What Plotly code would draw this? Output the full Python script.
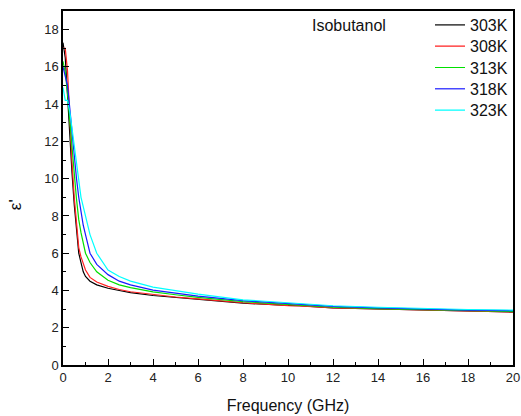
import plotly.graph_objects as go

freq = [0, 0.1, 0.2, 0.3, 0.4, 0.5, 0.6, 0.7, 0.8, 0.9, 1.0, 1.2, 1.5, 2, 2.5, 3, 4, 5, 6, 8, 10, 10.5, 12, 14, 16, 18, 20]

eps_303 = [17.3, 16.5, 14.5, 12.2, 10.3, 8.6, 7.2, 6.0, 5.5, 5.0, 4.75, 4.5, 4.3, 4.12, 4.0, 3.88, 3.73, 3.63, 3.52, 3.32, 3.2, 3.18, 3.06, 3.0, 2.95, 2.9, 2.84]
eps_308 = [17.0, 17.0, 15.8, 13.2, 10.9, 9.0, 7.5, 6.3, 5.8, 5.4, 5.1, 4.7, 4.45, 4.22, 4.05, 3.93, 3.77, 3.65, 3.55, 3.34, 3.19, 3.17, 3.06, 3.0, 2.95, 2.9, 2.84]
eps_313 = [16.3, 15.7, 14.6, 13.0, 11.6, 10.3, 8.9, 7.8, 7.1, 6.5, 6.0, 5.5, 5.0, 4.55, 4.3, 4.15, 3.92, 3.77, 3.63, 3.4, 3.25, 3.22, 3.1, 3.03, 2.97, 2.92, 2.87]
eps_318 = [16.0, 15.5, 15.0, 13.8, 12.4, 11.2, 10.0, 9.0, 8.2, 7.5, 7.0, 6.0, 5.4, 4.85, 4.5, 4.3, 4.02, 3.85, 3.7, 3.45, 3.3, 3.28, 3.15, 3.07, 3.0, 2.95, 2.92]
eps_323 = [14.9, 14.2, 14.2, 13.6, 12.7, 11.8, 11.0, 10.0, 9.0, 8.5, 8.0, 7.0, 6.0, 5.1, 4.75, 4.5, 4.18, 3.97, 3.8, 3.5, 3.32, 3.3, 3.18, 3.1, 3.03, 2.98, 2.95]

labels = ["303K", "308K", "313K", "318K", "323K"]
series = [eps_303, eps_308, eps_313, eps_318, eps_323]
colors = ["#000000", "#ff2020", "#00e000", "#1a1aff", "#00ffff"]

font_family = "Liberation Sans, Arial, sans-serif"

fig = go.Figure()
legend_layout = {}
for i, (name, ys, c) in enumerate(zip(labels, series, colors)):
    lg = f"legend{i + 2}"
    fig.add_trace(go.Scatter(x=freq, y=ys, mode="lines", name=name, legend=lg,
                             line=dict(color=c, width=1.2)))
    row_px = 25 + 21.3 * i
    legend_layout[lg] = dict(x=1.0, y=(365 - row_px) / 354, xanchor="right", yanchor="middle",
                             xref="paper", yref="paper",
                             bgcolor="rgba(0,0,0,0)",
                             font=dict(family=font_family, size=16, color="#111"))

axis_common = dict(showline=True, linecolor="black", linewidth=1.5, mirror=True,
                   ticks="inside", ticklen=6, tickwidth=1.2, tickcolor="black",
                   showgrid=False, zeroline=False,
                   tickfont=dict(family=font_family, size=13, color="#222"))

fig.update_xaxes(range=[0, 20], dtick=2, tick0=0,
                 minor=dict(ticks="inside", ticklen=3, dtick=1, tickcolor="black"),
                 title=dict(text="Frequency (GHz)", font=dict(family=font_family, size=16, color="#111"), standoff=15),
                 **axis_common)
fig.update_yaxes(range=[0, 19], dtick=2, tick0=0,
                 minor=dict(ticks="inside", ticklen=3, dtick=1, tickcolor="black"),
                 **axis_common)

# y-axis title (ε') placed as rotated text, as in the reference
fig.add_annotation(text="ε'", xref="paper", yref="paper", x=-0.104, y=0.452,
                   textangle=-90, showarrow=False, xanchor="center", yanchor="middle",
                   font=dict(family=font_family, size=17, color="#111"))

fig.add_annotation(text="Isobutanol", xref="paper", yref="paper", x=0.549, y=0.96,
                   xanchor="left", yanchor="middle", showarrow=False,
                   font=dict(family=font_family, size=16, color="#111"))

fig.update_layout(
    width=521, height=416,
    margin=dict(l=63, r=8, t=11, b=51, autoexpand=False),
    plot_bgcolor="white", paper_bgcolor="white",
    **legend_layout,
)

fig.write_html("out.html", config={"displayModeBar": False},
               post_script="document.body.style.margin='0';")
